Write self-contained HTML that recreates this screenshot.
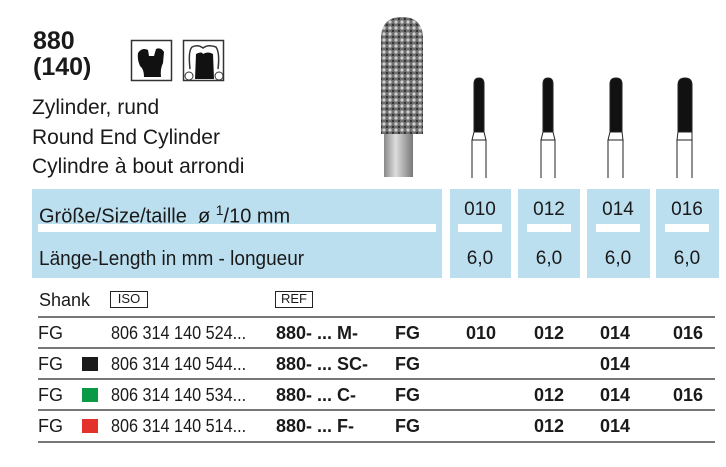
<!DOCTYPE html>
<html><head><meta charset="utf-8"><style>
*{margin:0;padding:0;box-sizing:border-box}
body{width:726px;height:467px;background:#fff;position:relative;overflow:hidden;font-family:"Liberation Sans",sans-serif;color:#1a1a1a}
.a{position:absolute;white-space:nowrap}
.b{font-family:"Liberation Sans",sans-serif;font-weight:bold}
.blue{position:absolute;background:#bcdff0}
.wb{position:absolute;background:#fff;height:8px;top:224px}
.ln{position:absolute;left:38px;width:677px;height:2px;background:#777}
.sq{position:absolute;left:82px;width:16px;height:14px}
.t{font-size:18px;line-height:20px}
.v{font-size:18px;width:60px;text-align:center}
.n{transform:scaleX(.9);transform-origin:0 0}
</style></head><body>
<div class="a b" style="left:33px;top:28px;font-size:25px;line-height:26px">880<br>(140)</div>
<svg class="a" style="left:130px;top:39px" width="100" height="45">
<rect x="1.5" y="1.5" width="40" height="40" fill="#fff" stroke="#333" stroke-width="1.5"/>
<path d="M8 14 Q12 8 18 11 L19 17 L24 17 L26 10 Q31 8 34 13 L33 24 Q30 30 31 38 L14 38 Q14 30 10 27 Q7 20 8 14Z" fill="#111"/>
<rect x="53.5" y="1.5" width="40" height="40" fill="#fff" stroke="#333" stroke-width="1.5"/>
<path d="M60 30 Q58 12 62 8 Q68 5 73 9 Q78 5 86 8 Q90 14 88 30" fill="none" stroke="#333" stroke-width="1.5"/>
<path d="M65 40 L66 15 Q72 12 73 15 Q78 12 83 15 L84 40Z" fill="#111"/>
<circle cx="59" cy="37" r="4" fill="none" stroke="#333"/><circle cx="89" cy="37" r="4" fill="none" stroke="#333"/>
</svg>
<div class="a" style="left:32px;top:93px;font-size:21px;line-height:29.5px">Zylinder, rund<br>Round End Cylinder<br>Cylindre à bout arrondi</div>
<svg class="a" style="left:376px;top:14px" width="52" height="166">
<defs><pattern id="p" width="6" height="6" patternUnits="userSpaceOnUse"><rect width="6" height="6" fill="#6f6f6f"/><circle cx="2" cy="2" r="1.6" fill="#d0d0d0"/><circle cx="5" cy="5" r="1.2" fill="#333"/></pattern>
<linearGradient id="g" x1="0" x2="1"><stop offset="0" stop-color="#888"/><stop offset=".4" stop-color="#ddd"/><stop offset="1" stop-color="#777"/></linearGradient></defs>
<rect x="8" y="115" width="29" height="48" fill="url(#g)"/>
<path d="M5 120 L5 25 Q5 3 26 3 Q47 3 47 25 L47 120Z" fill="url(#p)"/>
</svg>
<svg class="a" style="left:440px;top:70px" width="286" height="112" fill="none" stroke="#222" stroke-width="1">
<g><path d="M34 62 L34 14 Q34 8 39 8 Q44 8 44 14 L44 62Z" fill="#111"/><path d="M34 62 L32 70 L46 70 L44 62 M32 70 L32 108 M46 70 L46 108"/></g>
<g><path d="M103 62 L103 14 Q103 8 108 8 Q113 8 113 14 L113 62Z" fill="#111"/><path d="M103 62 L101 70 L115 70 L113 62 M101 70 L101 108 M115 70 L115 108"/></g>
<g><path d="M170 62 L170 14 Q170 8 176 8 Q182 8 182 14 L182 62Z" fill="#111"/><path d="M170 62 L168 70 L183 70 L182 62 M168 70 L168 108 M183 70 L183 108"/></g>
<g><path d="M238 62 L238 15 Q238 8 245 8 Q252 8 252 15 L252 62Z" fill="#111"/><path d="M238 62 L237 70 L252 70 L252 62 M237 70 L237 108 M252 70 L252 108"/></g>
</svg>
<div class="blue" style="left:32px;top:189px;width:410px;height:89px"></div>
<div class="blue" style="left:450px;top:189px;width:61px;height:89px"></div>
<div class="blue" style="left:518px;top:189px;width:62px;height:89px"></div>
<div class="blue" style="left:587px;top:189px;width:63px;height:89px"></div>
<div class="blue" style="left:656px;top:189px;width:63px;height:89px"></div>
<div class="wb" style="left:38px;width:398px"></div>
<div class="wb" style="left:458px;width:44px"></div>
<div class="wb" style="left:527px;width:44px"></div>
<div class="wb" style="left:596px;width:44px"></div>
<div class="wb" style="left:665px;width:44px"></div>
<div class="a" style="left:39px;top:199px;font-size:20px;line-height:22px">Größe/Size/taille&nbsp; ø <sup style="font-size:14px">1</sup>/10 mm</div>
<div class="a n" style="left:39px;top:248px;font-size:20px;line-height:22px;transform:scaleX(.95)">Länge-Length in mm - longueur</div>
<div class="a v t" style="left:450px;top:200px;font-size:19px">010</div><div class="a v t" style="left:519px;top:200px;font-size:19px">012</div><div class="a v t" style="left:588px;top:200px;font-size:19px">014</div><div class="a v t" style="left:657px;top:200px;font-size:19px">016</div>
<div class="a v t" style="left:450px;top:249px;font-size:19px">6,0</div><div class="a v t" style="left:519px;top:249px;font-size:19px">6,0</div><div class="a v t" style="left:588px;top:249px;font-size:19px">6,0</div><div class="a v t" style="left:657px;top:249px;font-size:19px">6,0</div>
<div class="a t" style="left:39px;top:290px">Shank</div>
<div class="a" style="left:110px;top:291px;width:38px;height:17px;border:1.5px solid #222;font-size:13px;line-height:14px;text-align:center">ISO</div>
<div class="a" style="left:275px;top:291px;width:38px;height:17px;border:1.5px solid #222;font-size:13px;line-height:14px;text-align:center">REF</div>
<div class="ln" style="top:316px"></div><div class="ln" style="top:347px"></div><div class="ln" style="top:378px"></div><div class="ln" style="top:409px"></div><div class="ln" style="top:441px"></div>
<div class="sq" style="top:357px;background:#1a1a1a"></div>
<div class="sq" style="top:388px;background:#0a9a45"></div>
<div class="sq" style="top:419px;background:#e3312b"></div>
<div class="a t" style="left:38px;top:323px">FG</div>
<div class="a t" style="left:38px;top:354px">FG</div>
<div class="a t" style="left:38px;top:385px">FG</div>
<div class="a t" style="left:38px;top:416px">FG</div>
<div class="a t n" style="left:111px;top:323px">806 314 140 524...</div>
<div class="a t n" style="left:111px;top:354px">806 314 140 544...</div>
<div class="a t n" style="left:111px;top:385px">806 314 140 534...</div>
<div class="a t n" style="left:111px;top:416px">806 314 140 514...</div>
<div class="a b t" style="left:276px;top:323px">880- ... M-</div>
<div class="a b t" style="left:276px;top:354px">880- ... SC-</div>
<div class="a b t" style="left:276px;top:385px">880- ... C-</div>
<div class="a b t" style="left:276px;top:416px">880- ... F-</div>
<div class="a b t" style="left:395px;top:323px">FG</div>
<div class="a b t" style="left:395px;top:354px">FG</div>
<div class="a b t" style="left:395px;top:385px">FG</div>
<div class="a b t" style="left:395px;top:416px">FG</div>
<div class="a b v t" style="left:451px;top:323px">010</div>
<div class="a b v t" style="left:519px;top:323px">012</div>
<div class="a b v t" style="left:585px;top:323px">014</div>
<div class="a b v t" style="left:658px;top:323px">016</div>
<div class="a b v t" style="left:585px;top:354px">014</div>
<div class="a b v t" style="left:519px;top:385px">012</div>
<div class="a b v t" style="left:585px;top:385px">014</div>
<div class="a b v t" style="left:658px;top:385px">016</div>
<div class="a b v t" style="left:519px;top:416px">012</div>
<div class="a b v t" style="left:585px;top:416px">014</div>
</body></html>
